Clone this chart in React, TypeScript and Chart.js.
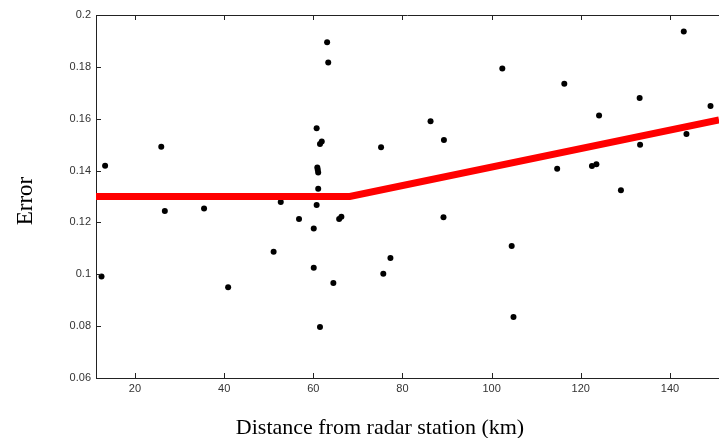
import React, { useEffect, useRef } from "react";
import { Chart, registerables } from "chart.js";

Chart.register(...registerables);

const distances = [
  12.5, 13.3, 25.9, 26.7, 35.5, 40.9, 51.1, 52.7, 56.8, 60.1, 60.1, 60.75,
  61.5, 61.9, 60.9, 61.0, 61.1, 61.1, 60.75, 61.5, 63.1, 63.35, 64.5, 65.8,
  66.3, 75.2, 75.7, 77.3, 86.3, 89.3, 89.2, 102.4, 104.5, 104.9, 114.7, 116.3,
  122.5, 123.5, 124.1, 129.0, 133.2, 133.3, 143.1, 143.7, 149.1,
];
const errors = [
  0.0991, 0.1419, 0.1492, 0.1244, 0.1254, 0.095, 0.1087, 0.1279, 0.1213,
  0.1177, 0.1025, 0.1563, 0.1502, 0.1512, 0.1412, 0.1403, 0.1393, 0.133,
  0.1267, 0.0797, 0.1895, 0.1817, 0.0966, 0.1213, 0.1222, 0.149, 0.1002,
  0.1063, 0.159, 0.1518, 0.122, 0.1794, 0.1109, 0.0835, 0.1407, 0.1735,
  0.1418, 0.1424, 0.1612, 0.1324, 0.168, 0.15, 0.1936, 0.1541, 0.1649,
];
const fitX = [11.26, 68.2, 151];
const fitY = [0.13, 0.13, 0.1595];

const xTicks = [20, 40, 60, 80, 100, 120, 140];
const yTicks = [0.06, 0.08, 0.1, 0.12, 0.14, 0.16, 0.18, 0.2];
const yTickLabels = ["0.06", "0.08", "0.1", "0.12", "0.14", "0.16", "0.18", "0.2"];

const xTitle = "Distance from radar station (km)";
const yTitle = "Error";

const tickPlugin = {
  id: "matlabAxes",
  afterDraw(chart: any) {
    const { ctx, chartArea } = chart;
    const xs = chart.scales.x;
    const ys = chart.scales.y;
    ctx.save();
    ctx.strokeStyle = "#222";
    ctx.lineWidth = 1;
    ctx.beginPath();
    ctx.moveTo(chartArea.left, chartArea.top + 0.5);
    ctx.lineTo(chartArea.right, chartArea.top + 0.5);
    xTicks.forEach((v) => {
      const px = Math.round(xs.getPixelForValue(v)) + 0.5;
      ctx.moveTo(px, chartArea.bottom);
      ctx.lineTo(px, chartArea.bottom - 5);
      ctx.moveTo(px, chartArea.top);
      ctx.lineTo(px, chartArea.top + 5);
    });
    yTicks.forEach((v) => {
      const py = Math.round(ys.getPixelForValue(v)) + 0.5;
      ctx.moveTo(chartArea.left, py);
      ctx.lineTo(chartArea.left + 5, py);
    });
    ctx.stroke();

    ctx.fillStyle = "#000";
    ctx.font = "22px 'Liberation Serif'";
    ctx.textAlign = "center";
    ctx.textBaseline = "alphabetic";
    ctx.fillText(xTitle, 380, 434);
    ctx.translate(32, 201);
    ctx.rotate(-Math.PI / 2);
    ctx.font = "23px 'Liberation Serif'";
    ctx.fillText(yTitle, 0, 0);
    ctx.restore();
  },
};

export default function App() {
  const ref = useRef<HTMLCanvasElement>(null);
  useEffect(() => {
    document.body.style.margin = "0";
    const canvas = ref.current!;
    const chart = new Chart(canvas, {
      type: "scatter",
      data: {
        datasets: [
          {
            label: "fit",
            type: "line",
            data: fitX.map((x, i) => ({ x, y: fitY[i] })),
            borderColor: "#ff0000",
            borderWidth: 7,
            pointRadius: 0,
            fill: false,
            order: 0,
          } as any,
          {
            label: "points",
            data: distances.map((x, i) => ({ x, y: errors[i] })),
            backgroundColor: "#000",
            borderColor: "#000",
            pointRadius: 3,
            pointBorderWidth: 0,
            order: 1,
          },
        ],
      },
      options: {
        responsive: false,
        animation: false,
        devicePixelRatio: 1,
        layout: { autoPadding: false, padding: { top: 15, left: 0, right: 0, bottom: 0 } },
        plugins: {
          legend: { display: false },
          tooltip: { enabled: false },
        },
        scales: {
          x: {
            type: "linear",
            min: 11.26,
            max: 151,
            afterFit: (s: any) => {
              s.height = 60;
            },
            afterBuildTicks: (s: any) => {
              s.ticks = xTicks.map((v) => ({ value: v }));
            },
            grid: { display: false, drawTicks: false },
            border: { display: true, color: "#222", width: 1 },
            ticks: {
              color: "#333",
              padding: 4,
              font: { family: "'Liberation Sans'", size: 11 },
              callback: (v: any) => String(v),
              maxRotation: 0,
            },
          },
          y: {
            type: "linear",
            min: 0.06,
            max: 0.2,
            afterFit: (s: any) => {
              s.width = 96;
            },
            afterBuildTicks: (s: any) => {
              s.ticks = yTicks.map((v) => ({ value: v }));
            },
            grid: { display: false, drawTicks: false },
            border: { display: true, color: "#222", width: 1 },
            ticks: {
              color: "#333",
              padding: 5,
              font: { family: "'Liberation Sans'", size: 11 },
              callback: (v: any) => {
                const i = yTicks.findIndex((t) => Math.abs(t - v) < 1e-9);
                return i >= 0 ? yTickLabels[i] : "";
              },
            },
          },
        },
      },
      plugins: [tickPlugin],
    });
    return () => chart.destroy();
  }, []);
  return (
    <div style={{ width: 719, height: 438, overflow: "hidden", background: "#fff" }}>
      <canvas ref={ref} width={719} height={438} />
    </div>
  );
}
